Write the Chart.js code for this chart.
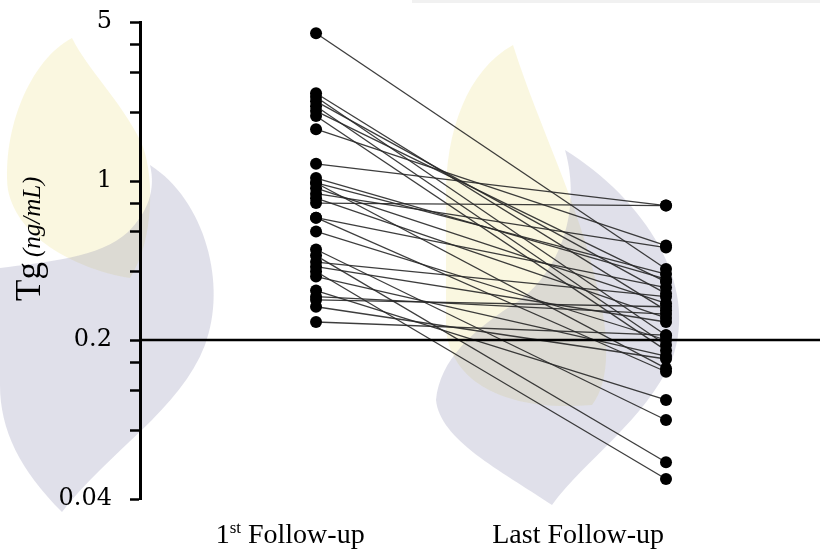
<!DOCTYPE html>
<html>
<head>
<meta charset="utf-8">
<title>Tg at first and last follow-up</title>
<script src="https://cdn.jsdelivr.net/npm/chart.js@4/dist/chart.umd.min.js"></script>
<style>
  html, body { margin: 0; padding: 0; background: #fff; }
  #wrap { width: 820px; height: 553px; }
</style>
</head>
<body>
<div id="wrap"><canvas id="c" width="820" height="553"></canvas></div>
<script>
// Paired thyroglobulin values (ng/mL), one entry per patient
const categories = ['1st Follow-up', 'Last Follow-up'];
const firstFollowUp = [4.46, 2.43, 2.34, 2.24, 2.13, 2.03, 1.93, 1.69, 1.19, 1.03,
                       0.98, 0.98, 0.93, 0.88, 0.84, 0.80, 0.69, 0.69, 0.60, 0.50,
                       0.47, 0.44, 0.42, 0.40, 0.38, 0.33, 0.31, 0.30, 0.28, 0.24];
const lastFollowUp  = [0.41, 0.27, 0.21, 0.32, 0.19, 0.36, 0.18, 0.52, 0.78, 0.37,
                       0.39, 0.15, 0.29, 0.51, 0.25, 0.78, 0.34, 0.145, 0.20, 0.089,
                       0.058, 0.31, 0.24, 0.049, 0.17, 0.109, 0.26, 0.28, 0.165, 0.21];
const yTickValues = [0.04, 0.08, 0.12, 0.16, 0.2, 0.4, 0.6, 0.8, 1, 2, 3, 4, 5];
const yTickLabels = ['0.04', '0.2', '1', '5'];
const threshold = 0.2;

// x positions of the two visits and of their captions on a linear axis
const X_MIN = 0.497, X_MAX = 2.44;
const visitX = [1, 2];
const captionX = [0.926, 1.749];

const pairDatasets = firstFollowUp.map((v, i) => ({
  data: [{ x: visitX[0], y: v }, { x: visitX[1], y: lastFollowUp[i] }],
  showLine: true,
  borderColor: 'rgba(40,40,40,0.9)',
  borderWidth: 1.3,
  pointRadius: 6,
  pointBackgroundColor: '#000',
  pointBorderWidth: 0,
  order: 2
}));

const thresholdDataset = {
  data: [{ x: X_MIN, y: threshold }, { x: X_MAX, y: threshold }],
  showLine: true,
  borderColor: '#000',
  borderWidth: 2.6,
  pointRadius: 0,
  order: 1
};

// soft logo shapes painted behind the plot
const backdrop = {
  id: 'backdrop',
  beforeDraw(chart) {
    const ctx = chart.ctx;
    ctx.save();
    ctx.fillStyle = '#f1f1f1';
    ctx.fillRect(412, 0, 408, 3);
    const yellow = 'rgba(240,232,170,0.36)';
    const grey = 'rgba(135,137,175,0.26)';
    // left pair
    ctx.fillStyle = yellow;
    ctx.beginPath();
    ctx.moveTo(72, 38);
    ctx.bezierCurveTo(30, 60, 2, 130, 8, 190);
    ctx.bezierCurveTo(18, 240, 80, 270, 130, 278);
    ctx.bezierCurveTo(155, 240, 155, 170, 140, 140);
    ctx.bezierCurveTo(120, 100, 88, 70, 72, 38);
    ctx.closePath(); ctx.fill();
    ctx.fillStyle = grey;
    ctx.beginPath();
    ctx.moveTo(150, 165);
    ctx.bezierCurveTo(205, 200, 228, 285, 205, 345);
    ctx.bezierCurveTo(180, 410, 110, 450, 62, 512);
    ctx.bezierCurveTo(20, 470, 0, 430, 0, 385);
    ctx.lineTo(0, 268);
    ctx.bezierCurveTo(45, 262, 100, 258, 128, 232);
    ctx.bezierCurveTo(148, 212, 156, 190, 150, 165);
    ctx.closePath(); ctx.fill();
    // middle pair
    ctx.fillStyle = yellow;
    ctx.beginPath();
    ctx.moveTo(513, 45);
    ctx.bezierCurveTo(468, 70, 445, 130, 446, 200);
    ctx.lineTo(446, 330);
    ctx.bezierCurveTo(452, 385, 510, 412, 592, 405);
    ctx.bezierCurveTo(612, 380, 608, 330, 598, 290);
    ctx.bezierCurveTo(578, 200, 540, 130, 513, 45);
    ctx.closePath(); ctx.fill();
    ctx.fillStyle = grey;
    ctx.beginPath();
    ctx.moveTo(565, 150);
    ctx.bezierCurveTo(645, 200, 700, 285, 672, 360);
    ctx.bezierCurveTo(645, 420, 585, 460, 552, 505);
    ctx.bezierCurveTo(500, 470, 440, 440, 436, 400);
    ctx.bezierCurveTo(440, 360, 472, 330, 520, 300);
    ctx.bezierCurveTo(560, 270, 582, 210, 565, 150);
    ctx.closePath(); ctx.fill();
    ctx.restore();
  }
};

// axis title and visit captions
const captions = {
  id: 'captions',
  afterDraw(chart) {
    const ctx = chart.ctx;
    const xs = chart.scales.x;
    ctx.save();
    ctx.fillStyle = '#000';
    ctx.textBaseline = 'alphabetic';
    // "1st Follow-up" with superscript ordinal
    const big = '28px "Liberation Serif", serif';
    const small = '17px "Liberation Serif", serif';
    const baseY = 543;
    {
      const cx = xs.getPixelForValue(captionX[0]);
      ctx.font = big; const w1 = ctx.measureText('1').width;
      const w3 = ctx.measureText(' Follow-up').width;
      ctx.font = small; const w2 = ctx.measureText('st').width;
      let x = cx - (w1 + w2 + w3) / 2;
      ctx.textAlign = 'left';
      ctx.font = big; ctx.fillText('1', x, baseY); x += w1;
      ctx.font = small; ctx.fillText('st', x, baseY - 10); x += w2;
      ctx.font = big; ctx.fillText(' Follow-up', x, baseY);
    }
    ctx.font = big;
    ctx.textAlign = 'center';
    ctx.fillText(categories[1], xs.getPixelForValue(captionX[1]), baseY);

    // rotated y title: "Tg (ng/mL)"
    ctx.translate(40, 301);
    ctx.rotate(-Math.PI / 2);
    ctx.textAlign = 'left';
    ctx.font = '35px "Liberation Serif", serif';
    ctx.fillText('Tg', 0, 0);
    const tw = ctx.measureText('Tg').width;
    ctx.font = 'italic 25px "Liberation Serif", serif';
    ctx.fillText('(ng/mL)', tw + 5, 0);
    ctx.restore();
  }
};

new Chart(document.getElementById('c'), {
  type: 'scatter',
  data: { datasets: [...pairDatasets, thresholdDataset] },
  plugins: [backdrop, captions],
  options: {
    responsive: false,
    animation: false,
    devicePixelRatio: 1,
    layout: { autoPadding: false, padding: { top: 22, right: 0, bottom: 0, left: 0 } },
    plugins: { legend: { display: false }, tooltip: { enabled: false }, title: { display: false } },
    scales: {
      x: {
        type: 'linear',
        min: X_MIN,
        max: X_MAX,
        grid: { display: false },
        border: { display: false },
        ticks: { display: false },
        afterFit(s) { s.height = 54; }
      },
      y: {
        type: 'logarithmic',
        position: 'left',
        min: 0.04,
        max: 5,
        afterBuildTicks(s) { s.ticks = yTickValues.map(v => ({ value: v })); },
        afterFit(s) { s.width = 140; s.paddingTop = 0; s.paddingBottom = 0; },
        ticks: {
          autoSkip: false,
          padding: 18,
          color: '#000',
          font: { family: '"DejaVu Serif", serif', size: 24 },
          callback(v) {
            const s = String(Math.round(v * 1000) / 1000);
            return yTickLabels.includes(s) ? s : '';
          }
        },
        grid: { drawOnChartArea: false, tickLength: 10, tickWidth: 2.5, color: '#000' },
        border: { display: true, width: 3, color: '#000' }
      }
    }
  }
});
</script>
</body>
</html>
